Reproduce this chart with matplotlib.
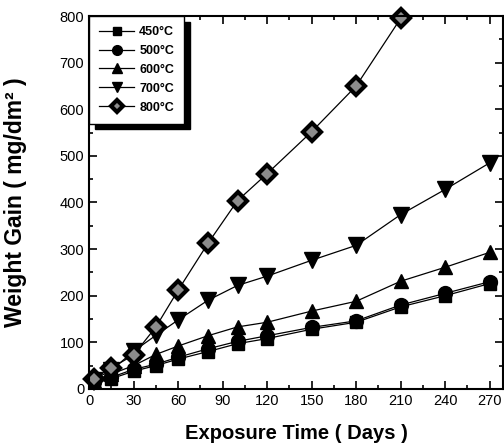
import numpy as np
import matplotlib
matplotlib.use("Agg")
import matplotlib.pyplot as plt
from matplotlib.ticker import MultipleLocator

plt.rcParams['font.family'] = ['Liberation Sans', 'DejaVu Sans']

days = [3, 15, 30, 45, 60, 80, 100, 120, 150, 180, 210, 240, 270]
w450 = [12, 22, 38, 50, 64, 80, 97, 108, 128, 143, 176, 200, 226]
w500 = [15, 25, 42, 53, 68, 86, 102, 114, 132, 146, 180, 205, 230]
w600 = [18, 32, 50, 74, 92, 114, 133, 143, 167, 188, 231, 261, 293]
w700 = [20, 40, 81, 115, 148, 190, 222, 242, 276, 308, 374, 428, 485]
days800 = [3, 15, 30, 45, 60, 80, 100, 120, 150, 180, 210]
w800 = [22, 45, 73, 133, 212, 312, 404, 462, 552, 650, 795]
labels = ['450°C', '500°C', '600°C', '700°C', '800°C']

fig = plt.figure(figsize=(5.04, 4.47), dpi=100)
ax = fig.add_axes([0.177, 0.130, 0.821, 0.834])

ax.plot(days, w450, 's-', color='black', lw=0.9, ms=9, label=labels[0])
ax.plot(days, w500, 'o-', color='black', lw=0.9, ms=10, label=labels[1])
ax.plot(days, w600, '^-', color='black', lw=0.9, ms=10, label=labels[2])
ax.plot(days, w700, 'v-', color='black', lw=0.9, ms=11, label=labels[3])
ax.plot(days800, w800, 'D-', color='black', lw=0.9, ms=9, mfc='#8c8c8c',
        mec='black', mew=3, label=labels[4], clip_on=False)

ax.set_xlim(0, 279)
ax.set_ylim(0, 800)
ax.set_xticks(np.arange(0, 271, 30))
ax.xaxis.set_minor_locator(MultipleLocator(15))
ax.yaxis.set_major_locator(MultipleLocator(100))
ax.yaxis.set_minor_locator(MultipleLocator(50))
ax.tick_params(which='both', direction='in', top=True, right=True, labelsize=10.5, width=1.2)
ax.tick_params(which='major', length=6)
ax.tick_params(which='minor', length=3)
for s in ax.spines.values():
    s.set_linewidth(1.5)

ax.set_xlabel('Exposure Time ( Days )', fontsize=14.5, fontweight='bold', labelpad=12)
ax.set_ylabel('Weight Gain ( mg/dm² )', fontsize=16.5, fontweight='bold')
ax.yaxis.set_label_coords(-0.15, 0.5)

leg = ax.legend(loc='upper left', prop={'weight': 'bold', 'size': 9}, markerscale=0.7,
                handlelength=2.8, handletextpad=0.4, fancybox=False, edgecolor='black',
                framealpha=1, borderaxespad=0.0, borderpad=0.8, labelspacing=0.55,
                shadow={'color': 'black', 'alpha': 1, 'ox': 4, 'oy': -4})
leg.get_frame().set_linewidth(1.0)

fig.savefig('out.png', dpi=100)
